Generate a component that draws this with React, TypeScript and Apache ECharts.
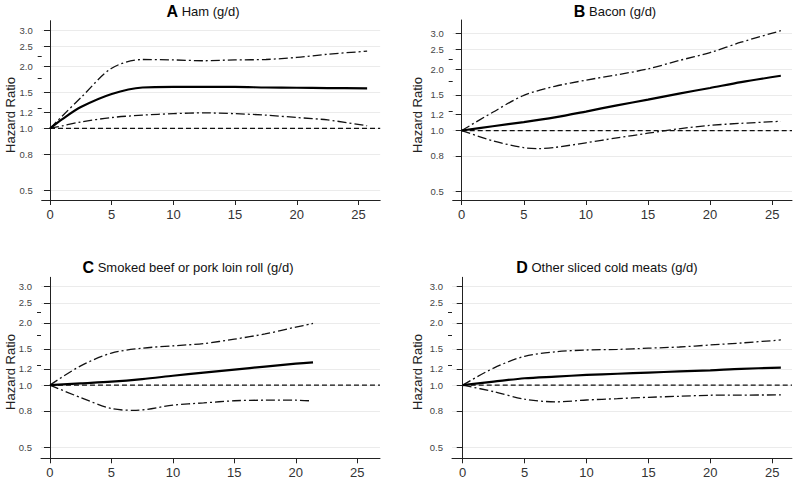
import React, { useEffect, useRef } from "react";
import * as echarts from "echarts";

// ---------- data ----------
const panelLetters = ["A", "B", "C", "D"];
const panelTitles = [
  "Ham (g/d)",
  "Bacon (g/d)",
  "Smoked beef or pork loin roll (g/d)",
  "Other sliced cold meats (g/d)",
];
const yAxisName = "Hazard Ratio";

const yTickValues = [0.5, 0.75, 1, 1.2, 1.5, 2, 2.5, 3];
const yTickLabels = ["0.5", "0.8", "1.0", "1.2", "1.5", "2.0", "2.5", "3.0"];
const yMinorTicks = [1.25, 1.75, 2.25];
const xTickValues = [0, 5, 10, 15, 20, 25];
const referenceHR = 1;

// A: Ham
const hamX = [0, 1, 2.5, 5, 7.5, 10, 12.5, 15, 17.5, 20, 22.5, 25.7];
const hamHR = [1.0, 1.11, 1.27, 1.47, 1.58, 1.59, 1.59, 1.59, 1.58, 1.575, 1.57, 1.565];
const hamLower = [1.0, 1.03, 1.075, 1.13, 1.16, 1.18, 1.19, 1.18, 1.16, 1.13, 1.1, 1.03];
const hamUpper = [1.0, 1.15, 1.41, 1.96, 2.16, 2.15, 2.13, 2.15, 2.16, 2.21, 2.29, 2.37];

// B: Bacon
const baconX = [0, 2.5, 5, 7.5, 10, 12.5, 15, 17.5, 20, 22.5, 25.7];
const baconHR = [1.0, 1.05, 1.1, 1.16, 1.24, 1.33, 1.42, 1.52, 1.62, 1.73, 1.86];
const baconUpper = [1.0, 1.23, 1.49, 1.65, 1.77, 1.88, 2.01, 2.21, 2.42, 2.72, 3.1];
const baconLowerX = [0, 2.5, 5, 6.2, 7.5, 10, 12.5, 15, 17.5, 20, 22.5, 25.7];
const baconLower = [1.0, 0.89, 0.823, 0.815, 0.826, 0.87, 0.92, 0.97, 1.02, 1.06, 1.085, 1.11];

// C: Smoked beef or pork loin roll
const smokedX = [0, 2.5, 5, 7.5, 10, 12.5, 15, 17.5, 20, 21.4];
const smokedHR = [1.0, 1.02, 1.04, 1.07, 1.11, 1.15, 1.19, 1.23, 1.27, 1.29];
const smokedUpper = [1.0, 1.24, 1.43, 1.51, 1.55, 1.59, 1.67, 1.77, 1.91, 1.99];
const smokedLowerX = [0, 2.5, 5, 7, 10, 12.5, 15, 17.5, 20, 21.1];
const smokedLower = [1.0, 0.87, 0.77, 0.755, 0.8, 0.82, 0.84, 0.845, 0.845, 0.84];

// D: Other sliced cold meats
const otherX = [0, 2.5, 5, 7.5, 10, 12.5, 15, 17.5, 20, 22.5, 25.7];
const otherHR = [1.0, 1.04, 1.08, 1.1, 1.12, 1.135, 1.15, 1.165, 1.18, 1.2, 1.215];
const otherLower = [1.0, 0.93, 0.855, 0.83, 0.847, 0.86, 0.873, 0.883, 0.893, 0.895, 0.896];
const otherUpper = [1.0, 1.21, 1.38, 1.45, 1.48, 1.49, 1.51, 1.53, 1.565, 1.6, 1.655];

const panels = [
  { hrX: hamX, hr: hamHR, loX: hamX, lo: hamLower, hiX: hamX, hi: hamUpper },
  { hrX: baconX, hr: baconHR, loX: baconLowerX, lo: baconLower, hiX: baconX, hi: baconUpper },
  { hrX: smokedX, hr: smokedHR, loX: smokedLowerX, lo: smokedLower, hiX: smokedX, hi: smokedUpper },
  { hrX: otherX, hr: otherHR, loX: otherX, lo: otherLower, hiX: otherX, hi: otherUpper },
];

// ---------- layout ----------
const FONT = "'Liberation Sans', Arial, Helvetica, sans-serif";
const layout = [
  { left: 41.7, top: 20.7, width: 338.5, height: 179.3, yMin: 0.45, yMax: 3.33, title: [203, 11], name: [10, 115] },
  { left: 452.7, top: 20, width: 339.3, height: 180, yMin: 0.455, yMax: 3.5, title: [615, 11], name: [417, 115] },
  { left: 41, top: 277.3, width: 339, height: 181, yMin: 0.442, yMax: 3.33, title: [188, 267], name: [10, 372] },
  { left: 452, top: 277.3, width: 340, height: 181, yMin: 0.442, yMax: 3.33, title: [607, 267], name: [417, 372] },
];
const xMins = [-0.673, -0.725, -0.73, -0.865];
const xMaxs = [26.76, 26.6, 26.85, 26.6];

const zip = (xs: number[], ys: number[]) => xs.map((x, i) => [x, ys[i]]);

function buildOption() {
  const grid: any[] = [];
  const xAxis: any[] = [];
  const yAxis: any[] = [];
  const series: any[] = [];
  const graphic: any[] = [];

  layout.forEach((L, i) => {
    grid.push({ left: L.left, top: L.top, width: L.width, height: L.height, containLabel: false });
    xAxis.push({
      type: "value",
      gridIndex: i,
      min: xMins[i],
      max: xMaxs[i],
      axisLine: { show: true, onZero: false, lineStyle: { color: "#222", width: 1 } },
      axisTick: { show: true, length: 5, customValues: xTickValues, lineStyle: { color: "#222" } },
      axisLabel: {
        customValues: xTickValues,
        fontSize: 13,
        color: "#333",
        margin: 8,
        fontFamily: FONT,
      },
      splitLine: { show: false },
    });
    yAxis.push({
      type: "log",
      gridIndex: i,
      position: "left",
      min: L.yMin,
      max: L.yMax,
      axisLine: { show: true, lineStyle: { color: "#222", width: 1 } },
      axisTick: { show: true, length: 6, customValues: yTickValues, lineStyle: { color: "#222" } },
      axisLabel: {
        customValues: yTickValues,
        fontSize: 9.5,
        color: "#444",
        margin: 9,
        fontFamily: FONT,
        formatter: (v: number) => {
          const k = yTickValues.findIndex((t) => Math.abs(t - v) < 1e-6);
          return k >= 0 ? yTickLabels[k] : "";
        },
      },
      splitLine: { show: true, lineStyle: { color: "#ebebeb", width: 1 } },
    });
    yAxis.push({
      type: "log",
      gridIndex: i,
      position: "left",
      offset: 0,
      min: L.yMin,
      max: L.yMax,
      axisLine: { show: false },
      axisTick: { show: true, length: 4, customValues: yMinorTicks, lineStyle: { color: "#222" } },
      axisLabel: { show: false },
      splitLine: { show: false },
    });

    const P = panels[i];
    const common = {
      type: "line",
      xAxisIndex: i,
      yAxisIndex: 2 * i,
      showSymbol: false,
      symbol: "none",
      silent: true,
      z: 3,
    };
    series.push({
      ...common,
      name: `ref${i}`,
      data: [
        [0, referenceHR],
        [xMaxs[i], referenceHR],
      ],
      lineStyle: { color: "#111", width: 1.3, type: [5, 3] },
      z: 2,
    });
    series.push({
      ...common,
      name: `lower${i}`,
      data: zip(P.loX, P.lo),
      smooth: 0.3,
      lineStyle: { color: "#111", width: 1.3, type: [9, 3, 2, 3] },
    });
    series.push({
      ...common,
      name: `upper${i}`,
      data: zip(P.hiX, P.hi),
      smooth: 0.3,
      lineStyle: { color: "#111", width: 1.3, type: [9, 3, 2, 3] },
    });
    series.push({
      ...common,
      name: `hr${i}`,
      data: zip(P.hrX, P.hr),
      smooth: 0.3,
      lineStyle: { color: "#000", width: 2.2, type: "solid" },
      z: 4,
    });

    graphic.push({
      type: "text",
      x: L.title[0],
      y: L.title[1],
      style: {
        text: `{l|${panelLetters[i]}} {t|${panelTitles[i]}}`,
        fontFamily: FONT,
        fontSize: 13,
        fill: "#111",
        align: "center",
        verticalAlign: "middle",
        rich: {
          l: { fontFamily: FONT, fontSize: 16, fontWeight: "bold", fill: "#000", color: "#000" },
          t: { fontFamily: FONT, fontSize: 13, fill: "#111", color: "#111" },
        },
      },
    });
    graphic.push({
      type: "text",
      x: L.name[0],
      y: L.name[1],
      rotation: Math.PI / 2,
      style: {
        text: yAxisName,
        fontFamily: FONT,
        fontSize: 13,
        fill: "#222",
        align: "center",
        verticalAlign: "middle",
      },
    });
  });

  return {
    animation: false,
    backgroundColor: "#ffffff",
    textStyle: { fontFamily: FONT },
    grid,
    xAxis,
    yAxis,
    series,
    graphic,
  };
}

export default function App() {
  const ref = useRef<HTMLDivElement>(null);
  useEffect(() => {
    if (!ref.current) return;
    const chart = echarts.init(ref.current, undefined, { renderer: "svg" });
    chart.setOption(buildOption() as any);
    return () => chart.dispose();
  }, []);
  return (
    <div
      ref={ref}
      style={{ position: "fixed", left: 0, top: 0, width: 794, height: 481, background: "#fff" }}
    />
  );
}
